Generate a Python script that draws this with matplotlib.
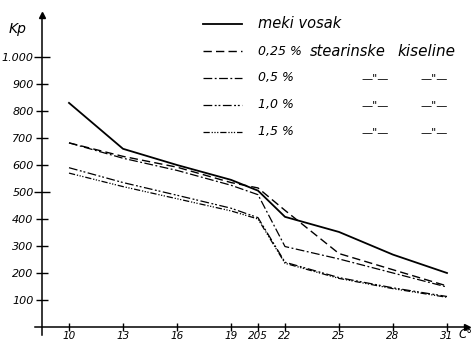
import numpy as np
import matplotlib
matplotlib.use('Agg')
import matplotlib.pyplot as plt


# temperature [C], hardness [Kp]
temps = [10, 13, 16, 19, 20.5, 22, 25, 28, 31]
meki_vosak = [830, 660, 600, 545, 505, 408, 352, 268, 200]
st_025 = [682, 632, 592, 535, 515, 432, 272, 212, 152]
st_05 = [682, 625, 580, 525, 490, 298, 252, 200, 148]
st_10 = [590, 535, 488, 440, 405, 240, 183, 145, 113]
st_15 = [570, 520, 475, 430, 400, 236, 180, 142, 110]

x_ticks = [10, 13, 16, 19, 20.5, 22, 25, 28, 31]
x_tick_labels = ['10', '13', '16', '19', '205', '22', '25', '28', '31']
y_ticks = [100, 200, 300, 400, 500, 600, 700, 800, 900, 1000]
y_tick_labels = ['100', '200', '300', '400', '500', '600', '700', '800', '900', '1.000']

series = [meki_vosak, st_025, st_05, st_10, st_15]
styles = [
    dict(linestyle='-', linewidth=1.3),
    dict(linestyle=(0, (6, 3)), linewidth=1.0),
    dict(linestyle=(0, (7, 2, 1.5, 2)), linewidth=0.9),
    dict(linestyle=(0, (7, 2, 1.5, 1.5, 1.5, 2)), linewidth=0.9),
    dict(linestyle=(0, (5, 1.5, 1, 1.2, 1, 1.2, 1, 1.5)), linewidth=0.9),
]
legend_texts = ['meki vosak', '0,25 %', '0,5 %', '1,0 %', '1,5 %']


def main():
    W, H = 473, 341
    fig = plt.figure(figsize=(W / 100, H / 100), dpi=100)
    ax = fig.add_axes([0, 0, 1, 1])

    # pixel mapping: x=10 -> 69px, 18px per degree; y=0 -> 327px, 0.27px per Kp
    ax.set_xlim(10 - 69 / 18, 10 + (W - 69) / 18)
    ax.set_ylim(-(H - 327) / 0.27, 327 / 0.27)

    for vals, st in zip(series, styles):
        ax.plot(temps, vals, color='black', **st)

    # axes like the hand drawing
    for s in ['top', 'right']:
        ax.spines[s].set_visible(False)
    ax.spines['left'].set_position(('data', 8.5))
    ax.spines['bottom'].set_position(('data', 0))
    ax.spines['left'].set_bounds(-30, 1150)
    ax.spines['bottom'].set_bounds(8.1, 32.0)
    ax.spines['left'].set_linewidth(1.1)
    ax.spines['bottom'].set_linewidth(1.1)
    ax.plot([8.5], [1155], marker='^', color='black', markersize=5, clip_on=False)
    ax.plot([32.1], [0], marker='>', color='black', markersize=5, clip_on=False)

    ax.set_xticks(x_ticks)
    ax.set_xticklabels(x_tick_labels, fontstyle='italic', fontsize=7.5)
    ax.set_yticks(y_ticks)
    ax.set_yticklabels(y_tick_labels, fontstyle='italic', fontsize=8)
    ax.tick_params(axis='x', direction='inout', length=6, width=1.0, pad=0)
    ax.tick_params(axis='y', direction='inout', length=8, width=1.0, pad=2)
    # the 500 and 1000 marks are drawn longer
    for t in ax.yaxis.get_major_ticks():
        if t.get_loc() in (500, 1000):
            t.tick1line.set_markersize(12)

    ax.text(10 - (69 - 17.5) / 18, 1105, 'Kp', fontstyle='italic', fontsize=10,
            ha='center', va='center')
    ax.text(0.999, 0.5 / H, 'C°', transform=ax.transAxes, fontstyle='italic', fontsize=8.5,
            ha='right', va='bottom')

    # hand-drawn legend
    rows_y = [24, 51, 78, 105, 132]
    for i, (st, txt) in enumerate(zip(styles, legend_texts)):
        yf = 1 - rows_y[i] / H
        ax.plot([203 / W, 242 / W], [yf, yf], color='black', transform=ax.transAxes, **st)
        ax.text(258 / W, yf, txt, transform=ax.transAxes, fontstyle='italic',
                fontsize=10.5 if i == 0 else 9, va='center', ha='left')
        if i == 1:
            ax.text(310 / W, yf, 'stearinske', transform=ax.transAxes, fontstyle='italic',
                    fontsize=10.5, va='center', ha='left')
            ax.text(397 / W, yf, 'kiseline', transform=ax.transAxes, fontstyle='italic',
                    fontsize=11, va='center', ha='left')
        elif i > 1:
            for xc in [375, 434]:
                ax.text(xc / W, yf, '—"—', transform=ax.transAxes, fontstyle='italic',
                        fontsize=8, va='center', ha='center')

    fig.savefig('out.png', dpi=100)


if __name__ == '__main__':
    main()
